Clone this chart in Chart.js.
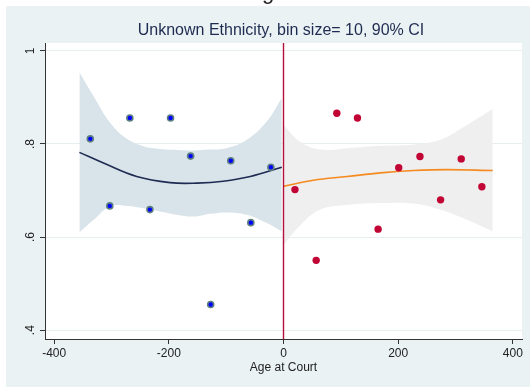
<!DOCTYPE html>
<html>
<head>
<meta charset="utf-8">
<script src="https://cdn.jsdelivr.net/npm/chart.js@4.4.1/dist/chart.umd.min.js"></script>
<style>
  html, body { margin: 0; padding: 0; background: #fff; }
  #wrap { width: 530px; height: 387px; position: relative; }
</style>
</head>
<body>
<div id="wrap"><canvas id="chart" width="530" height="387"></canvas></div>
<script>
// binned means, left of cutoff
const leftX = [-337, -303, -268, -233, -197, -162, -127, -92, -57, -22];
const leftY = [0.811, 0.667, 0.856, 0.659, 0.856, 0.774, 0.455, 0.764, 0.631, 0.750];
// binned means, right of cutoff
const rightX = [20, 57, 93, 129, 165, 201, 238, 274, 310, 346];
const rightY = [0.702, 0.550, 0.866, 0.856, 0.617, 0.749, 0.773, 0.680, 0.768, 0.708];

// fitted curves
const leftFitX = [-356, -314, -256, -198, -151, -105, -58, -3];
const leftFitY = [0.782, 0.759, 0.730, 0.717, 0.716, 0.720, 0.730, 0.750];
const rightFitX = [0, 52, 111, 169, 227, 285, 365];
const rightFitY = [0.709, 0.722, 0.730, 0.738, 0.743, 0.745, 0.743];

// 90% CI bands
const leftCiX = [-356, -331, -302, -273, -244, -215, -186, -157, -128, -99, -64, -29, -3];
const leftCiHi = [0.954, 0.902, 0.845, 0.811, 0.795, 0.789, 0.787, 0.786, 0.788, 0.791, 0.809, 0.849, 0.899];
const leftCiLo = [0.610, 0.637, 0.666, 0.667, 0.662, 0.655, 0.648, 0.644, 0.650, 0.653, 0.648, 0.630, 0.612];
const rightCiX = [0, 29, 64, 111, 169, 227, 273, 320, 365];
const rightCiHi = [0.841, 0.805, 0.788, 0.791, 0.796, 0.799, 0.809, 0.841, 0.875];
const rightCiLo = [0.583, 0.625, 0.659, 0.669, 0.673, 0.672, 0.659, 0.637, 0.612];

const xTicks = [-400, -200, 0, 200, 400];
const yTicks = [0.4, 0.6, 0.8, 1];
const yTickLabels = [".4", ".6", ".8", "1"];
const cutoff = 0;

const titleText = "Unknown Ethnicity, bin size= 10, 90% CI";
const xTitle = "Age at Court";

const pts = (xs, ys) => xs.map((x, i) => ({ x: x, y: ys[i] }));

const FONT = "'Liberation Sans', Arial, sans-serif";

// background, title, rotated y labels, cutoff line
const decor = {
  id: "decor",
  beforeDraw(chart) {
    const { ctx, chartArea: a } = chart;
    ctx.save();
    ctx.fillStyle = "#fff";
    ctx.fillRect(0, 0, chart.width, chart.height);
    ctx.fillStyle = "#eaf2f3";
    ctx.fillRect(6, 6, chart.width - 6, chart.height - 6);
    ctx.fillStyle = "#fff";
    ctx.fillRect(a.left, a.top, a.right - a.left, a.bottom - a.top);
    // cut-off letter of an outer title
    ctx.fillStyle = "#222";
    ctx.font = "22px " + FONT;
    ctx.textAlign = "center";
    ctx.textBaseline = "alphabetic";
    ctx.fillText("g", 268, -1.5);
    ctx.fillStyle = "#1e2b50";
    ctx.font = "16px " + FONT;
    ctx.textBaseline = "middle";
    ctx.fillText(titleText, 281, 31);
    ctx.restore();
  },
  afterDraw(chart) {
    const { ctx } = chart;
    const y = chart.scales.y;
    ctx.save();
    ctx.fillStyle = "#222";
    ctx.font = "12px " + FONT;
    ctx.textAlign = "center";
    ctx.textBaseline = "middle";
    yTicks.forEach((v, i) => {
      ctx.save();
      ctx.translate(31, y.getPixelForValue(v));
      ctx.rotate(-Math.PI / 2);
      ctx.fillText(yTickLabels[i], 0, 0);
      ctx.restore();
    });
    ctx.restore();
  },
  afterDatasetsDraw(chart) {
    const { ctx, chartArea: a } = chart;
    const px = chart.scales.x.getPixelForValue(cutoff);
    ctx.save();
    ctx.strokeStyle = "#b5103c";
    ctx.lineWidth = 1.4;
    ctx.beginPath();
    ctx.moveTo(px, a.top);
    ctx.lineTo(px, a.bottom);
    ctx.stroke();
    ctx.restore();
  }
};

new Chart(document.getElementById("chart"), {
  type: "scatter",
  data: {
    datasets: [
      { data: pts(leftCiX, leftCiHi), showLine: true, fill: "+1", backgroundColor: "#d8e4ea",
        borderWidth: 0, pointRadius: 0, tension: 0.4, order: 6 },
      { data: pts(leftCiX, leftCiLo), showLine: true, fill: false,
        borderWidth: 0, pointRadius: 0, tension: 0.4, order: 6 },
      { data: pts(rightCiX, rightCiHi), showLine: true, fill: "+1", backgroundColor: "#efefef",
        borderWidth: 0, pointRadius: 0, tension: 0.4, order: 6 },
      { data: pts(rightCiX, rightCiLo), showLine: true, fill: false,
        borderWidth: 0, pointRadius: 0, tension: 0.4, order: 6 },
      { data: pts(leftFitX, leftFitY), showLine: true, borderColor: "#1f2b52", borderWidth: 1.6,
        pointRadius: 0, tension: 0.4, order: 3 },
      { data: pts(rightFitX, rightFitY), showLine: true, borderColor: "#f58a1f", borderWidth: 1.6,
        pointRadius: 0, tension: 0.4, order: 3 },
      { data: pts(leftX, leftY), backgroundColor: "#0000ff", borderColor: "#5f8080",
        borderWidth: 1.6, pointRadius: 3, order: 1 },
      { data: pts(rightX, rightY), backgroundColor: "#c10534", borderColor: "#c10534",
        borderWidth: 0, pointRadius: 3.7, order: 1 }
    ]
  },
  options: {
    responsive: false,
    animation: false,
    layout: { padding: { top: 43, right: 8, left: 0, bottom: 0 } },
    plugins: { legend: { display: false }, tooltip: { enabled: false } },
    scales: {
      x: {
        type: "linear",
        min: -416,
        max: 416,
        afterBuildTicks: (s) => { s.ticks = xTicks.map(v => ({ value: v })); },
        afterFit: (s) => { s.height = 48; },
        grid: { drawOnChartArea: false, drawTicks: true, tickLength: 5, tickColor: "#333" },
        border: { color: "#333", width: 1 },
        ticks: { color: "#222", font: { family: FONT, size: 12 }, padding: 2, maxRotation: 0 },
        title: { display: true, text: xTitle, color: "#222", font: { family: FONT, size: 12 },
          padding: { top: 0, bottom: 12 } }
      },
      y: {
        type: "linear",
        min: 0.381,
        max: 1.017,
        afterBuildTicks: (s) => { s.ticks = yTicks.map(v => ({ value: v })); },
        afterFit: (s) => { s.width = 45; },
        grid: { color: "#e6eef0", lineWidth: 1, drawTicks: true, tickLength: 5, tickColor: "#333" },
        border: { color: "#333", width: 1 },
        ticks: { display: false }
      }
    }
  },
  plugins: [decor]
});
</script>
</body>
</html>
